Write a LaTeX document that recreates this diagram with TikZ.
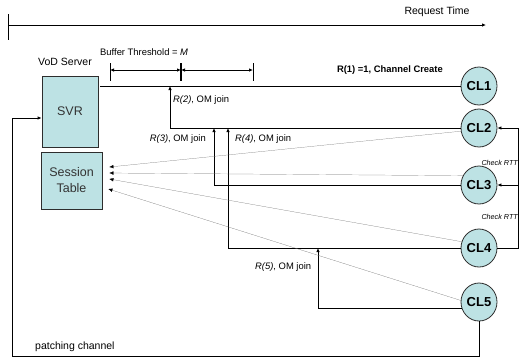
\documentclass[tikz,border=0pt]{standalone}
\usepackage{fontspec}
\setmainfont{Liberation Sans}
\usetikzlibrary{arrows.meta, positioning, calc, shapes.geometric}
\definecolor{boxcyan}{RGB}{189,226,228}
\definecolor{edgegray}{RGB}{45,45,45}

\begin{document}
\begin{tikzpicture}[x=1pt, y=-1pt,
    srvbox/.style={draw=edgegray, fill=boxcyan, thick, inner sep=0pt, align=center, text=black!80},
    client/.style={ellipse, draw=edgegray, fill=boxcyan, thick, minimum width=36pt, minimum height=38pt, inner sep=0pt, font=\fontsize{13}{13}\selectfont\bfseries},
    lbl/.style={font=\fontsize{9.4}{11}\selectfont, inner sep=0pt},
    tip/.style={thick, -{Latex[length=4pt,width=3.5pt]}},
    dimarr/.style={thick, {Latex[length=4pt,width=3.5pt]}-{Latex[length=4pt,width=3.5pt]}},
    sig/.style={gray!85!black, very thin, -{Latex[length=4pt,width=3.5pt,color=black]}}]
    \useasboundingbox (0,0) rectangle (530,360);

    % time axis
    \draw[thick] (8,14) -- (8,40);
    \draw[tip] (8,25) -- (486,25);
    \node[lbl, font=\fontsize{10.5}{12}\selectfont] (reqtime) at (437,12) {Request Time};

    % server side
    \node[lbl, font=\fontsize{10.5}{12}\selectfont] (vodlbl) at (65,62) {VoD Server};
    \node[srvbox, minimum width=56pt, minimum height=71pt, font=\fontsize{12.5}{14}\selectfont] (svr) at (70,111.5) {SVR};
    \node[srvbox, minimum width=61pt, minimum height=57pt, font=\fontsize{12.5}{16}\selectfont] (stab) at (71.5,180.5) {Session\\Table};

    % clients
    \node[client] (cl1) at (479,86) {CL1};
    \node[client] (cl2) at (479,128) {CL2};
    \node[client] (cl3) at (479,185) {CL3};
    \node[client] (cl4) at (479,248) {CL4};
    \node[client] (cl5) at (479,302) {CL5};

    % buffer threshold
    \node[lbl, anchor=west] (buflbl) at (100,52) {Buffer Threshold = \textit{M}};
    \draw[thick] (110,63) -- (110,81);
    \draw[very thick] (181,63) -- (181,81);
    \draw[thick] (253,63) -- (253,81);
    \draw[dimarr] (110,70) -- (181,70);
    \draw[dimarr] (181,70) -- (253,70);

    % channel from server
    \draw[thick] ([xshift=2pt]svr.east |- cl1.west) -- (cl1.west);
    \node[lbl, font=\fontsize{9.4}{11}\selectfont\bfseries, anchor=east] (r1lbl) at (443,70) {R(1) =1, Channel Create};

    % OM joins
    \coordinate (j2) at (170,86);
    \coordinate (j3) at (214,0);
    \coordinate (j4) at (228,0);
    \coordinate (j5) at (318,0);
    \draw[tip] (cl2.west) -| (j2);
    \draw[tip] (cl3.west) -| (j3 |- cl2.west);
    \draw[tip] (cl4.west) -| (j4 |- cl2.west);
    \draw[tip] (cl5.200) -| (j5 |- cl4.west);
    \node[lbl, anchor=west] (r2lbl) at (173,100) {\textit{R(2)}, OM join};
    \node[lbl, anchor=east] (r3lbl) at (206,139) {\textit{R(3)}, OM join};
    \node[lbl, anchor=west] (r4lbl) at (235,139) {\textit{R(4)}, OM join};
    \node[lbl, anchor=west] (r5lbl) at (255,267) {\textit{R(5)}, OM join};

    % session table updates
    \draw[sig] (cl2.190) -- ([xshift=7pt,yshift=13.5pt]stab.east);
    \draw[sig] (cl3.150) -- ([xshift=7pt,yshift=7.5pt]stab.east);
    \draw[sig] (cl4.160) -- ([xshift=7pt,yshift=1.5pt]stab.east);
    \draw[sig] (cl5.175) -- ([xshift=6pt,yshift=-8.5pt]stab.east);

    % RTT check
    \draw[tip] (cl4.east) -- ++(21,0) coordinate (rtt) |- (cl2.east);
    \draw[tip] (rtt |- cl3.east) -- (cl3.east);
    \node[lbl, font=\fontsize{7.2}{9}\selectfont\itshape, anchor=east] (rtt1) at (518,163) {Check RTT};
    \node[lbl, font=\fontsize{7.2}{9}\selectfont\itshape, anchor=east] (rtt2) at (518,217) {Check RTT};

    % patching channel
    \coordinate (pc) at (12,356);
    \draw[tip] (cl5.south) |- (pc) |- ([yshift=-6.5pt]svr.west);
    \node[lbl, font=\fontsize{10.5}{12}\selectfont, anchor=west] (patchlbl) at (35,347) {patching channel};
\end{tikzpicture}
\end{document}
